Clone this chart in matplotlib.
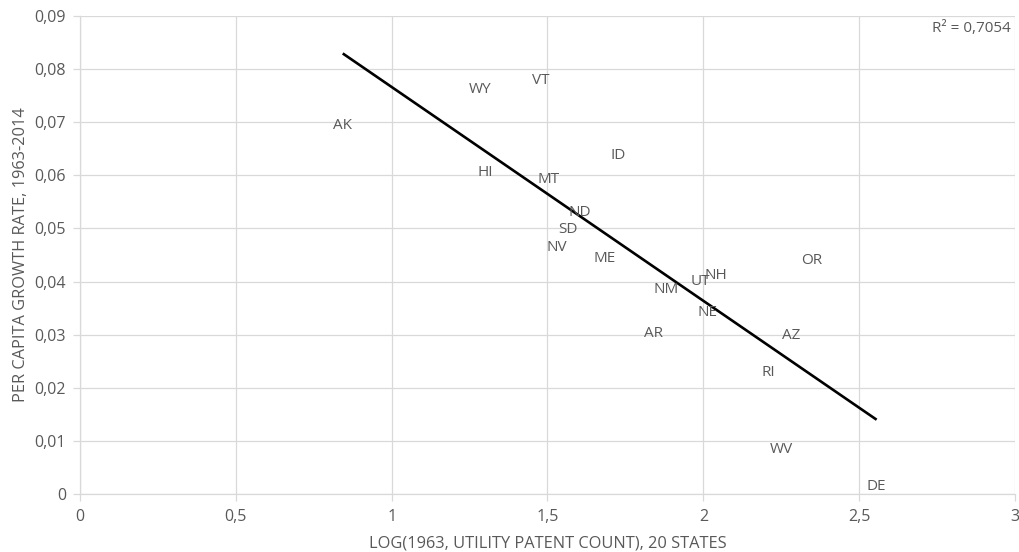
import numpy as np
import matplotlib
matplotlib.use('Agg')
import matplotlib.pyplot as plt
from matplotlib.ticker import FuncFormatter, MultipleLocator

# --- State labels, log patent count (1963) and per-capita growth 1963-2014
states = ['AK', 'WY', 'VT', 'ID', 'HI', 'MT', 'ND', 'SD', 'NV', 'ME',
          'NM', 'UT', 'NH', 'NE', 'AR', 'OR', 'AZ', 'RI', 'WV', 'DE']
log_patents = [0.843, 1.283, 1.479, 1.727, 1.300, 1.504, 1.604, 1.567,
               1.531, 1.682, 1.882, 1.992, 2.039, 2.013, 1.839, 2.347,
               2.281, 2.210, 2.251, 2.556]
growth = [0.0693, 0.0762, 0.0778, 0.0638, 0.0606, 0.0593, 0.0530, 0.0498,
          0.0465, 0.0444, 0.0385, 0.0400, 0.0412, 0.0342, 0.0303, 0.0439,
          0.0298, 0.0229, 0.0083, 0.0015]
r2_label = 'R² = 0,7054'

grey = '#595959'
grid = '#d9d9d9'
plt.rcParams['font.family'] = ['Open Sans', 'DejaVu Sans']


def comma(v, pos):
    s = f'{v:.2f}'.rstrip('0').rstrip('.')
    return s.replace('.', ',')


fig = plt.figure(figsize=(10.2, 5.52), dpi=100)
ax = fig.add_axes([80 / 1020, 1 - 494 / 552, 935 / 1020, 478 / 552])

x = np.array(log_patents)
y = np.array(growth)

# labels sit centred on each point, no markers
for s, xi, yi in zip(states, x, y):
    ax.text(xi, yi, s, ha='center', va='center', fontsize=11, color=grey)

# linear trend over the data range
k, b = np.polyfit(x, y, 1)
xs = np.array([x.min(), x.max()])
ax.plot(xs, k * xs + b, color='black', lw=1.9, solid_capstyle='butt')

ax.text(0.995, 0.99, r2_label, transform=ax.transAxes, ha='right',
        va='top', fontsize=11, color=grey)

ax.set_xlim(0, 3)
ax.set_ylim(0, 0.09)
ax.xaxis.set_major_locator(MultipleLocator(0.5))
ax.yaxis.set_major_locator(MultipleLocator(0.01))
ax.xaxis.set_major_formatter(FuncFormatter(comma))
ax.yaxis.set_major_formatter(FuncFormatter(comma))
ax.grid(True, color=grid, lw=0.9)
ax.set_axisbelow(True)
for side in ['top', 'right']:
    ax.spines[side].set_visible(False)
for side in ['left', 'bottom']:
    ax.spines[side].set_color(grid)
    ax.spines[side].set_linewidth(0.9)
ax.tick_params(colors=grid, labelcolor=grey, labelsize=11.5, length=5,
               width=0.9, direction='out')
ax.tick_params(axis='x', pad=6)
ax.tick_params(axis='y', pad=5)

ax.set_xlabel('LOG(1963, UTILITY PATENT COUNT), 20 STATES', fontsize=11.8,
              color=grey, labelpad=7)
ax.set_ylabel('PER CAPITA GROWTH RATE, 1963-2014', fontsize=11.8,
              color=grey, labelpad=4)

fig.savefig('out.png', dpi=100)
